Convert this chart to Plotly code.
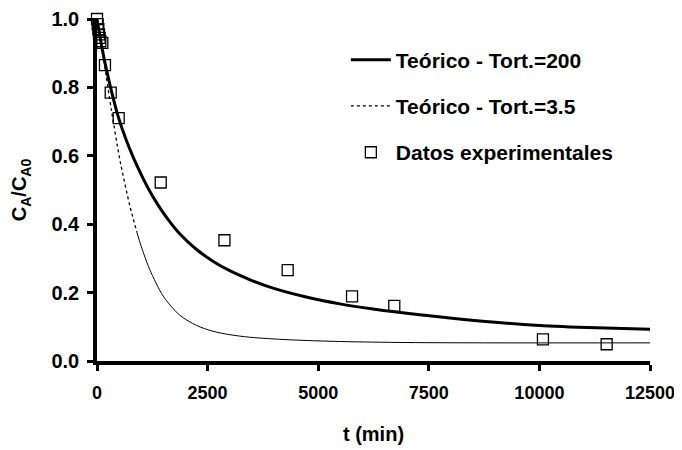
import plotly.graph_objects as go

# Experimental data
t_exp = [0, 15, 30, 45, 60, 75, 120, 180, 310, 490, 1440, 2880, 4310, 5765, 6720, 10080, 11520]
c_exp = [1.0, 0.985, 0.97, 0.955, 0.945, 0.935, 0.93, 0.865, 0.785, 0.71, 0.522, 0.353, 0.266, 0.189, 0.161, 0.0635, 0.049]

# Theoretical curve, tortuosity 200
t_200 = [0, 100, 200, 335, 490, 650, 815, 1000, 1190, 1400, 1600, 1870, 2250, 2620, 3000, 3450, 3980, 4730, 5490, 6240, 7295, 8650, 10000, 11290, 12640]
c_200 = [1.0, 0.925, 0.86, 0.785, 0.71, 0.65, 0.597, 0.545, 0.497, 0.452, 0.415, 0.372, 0.326, 0.292, 0.264, 0.238, 0.213, 0.187, 0.167, 0.152, 0.135, 0.117, 0.104, 0.097, 0.092]

# Theoretical curve, tortuosity 3.5
t_35 = [0, 50, 100, 200, 325, 515, 740, 900, 1000, 1190, 1495, 1870, 2250, 2620, 3000, 3450, 4350, 5500, 7000, 9000, 12640]
c_35 = [1.0, 0.96, 0.925, 0.84, 0.734, 0.59, 0.455, 0.377, 0.335, 0.268, 0.19, 0.134, 0.104, 0.087, 0.077, 0.0695, 0.062, 0.057, 0.054, 0.053, 0.053]

x_ticks = [0, 2500, 5000, 7500, 10000, 12500]
y_ticks = [0.0, 0.2, 0.4, 0.6, 0.8, 1.0]

split = 8  # dotted part ends here, thin solid afterwards

FONT = "Liberation Sans, Arial, sans-serif"

fig = go.Figure()
fig.add_trace(go.Scatter(
    x=t_200, y=c_200, mode="lines", line=dict(color="black", width=3, shape="spline", smoothing=0.8),
    name="Teórico - Tort.=200", legendgroup="a", cliponaxis=False))
fig.add_trace(go.Scatter(
    x=t_35[:split], y=c_35[:split], mode="lines",
    line=dict(color="black", width=1.3, dash="dot", shape="spline", smoothing=0.8),
    name="Teórico - Tort.=3.5", legendgroup="b", cliponaxis=False))
fig.add_trace(go.Scatter(
    x=t_35[split - 1:], y=c_35[split - 1:], mode="lines",
    line=dict(color="black", width=1, shape="spline", smoothing=0.8),
    showlegend=False, legendgroup="b", cliponaxis=False))
fig.add_trace(go.Scatter(
    x=t_exp, y=c_exp, mode="markers",
    marker=dict(symbol="square-open", size=11, color="black", line=dict(width=1.3)),
    name="Datos experimentales", legendgroup="c", cliponaxis=False))

axis_common = dict(
    showline=True, linecolor="black", linewidth=3.5, mirror=False,
    ticks="outside", ticklen=6, tickwidth=3, tickcolor="black",
    showgrid=False, zeroline=False, automargin=False,
)

# The page body has an 8px margin, so the figure is sized to fit the window.
fig.update_layout(
    width=674, height=442,
    margin=dict(l=89, r=32, t=11, b=89),
    paper_bgcolor="white", plot_bgcolor="white",
    font=dict(family=FONT, color="black"),
    xaxis=dict(range=[0, 12500], tickvals=x_ticks, ticktext=[str(v) for v in x_ticks],
               title=dict(text="t (min)", font=dict(family=FONT, size=20, weight="bold"), standoff=26),
               tickfont=dict(family=FONT, size=18, color="black", weight="bold"),
               ticklabelstandoff=7, **axis_common),
    yaxis=dict(range=[0, 1.0], tickvals=y_ticks, ticktext=[f"{v:.1f}" for v in y_ticks],
               title=dict(text="C<sub>A</sub>/C<sub>A0</sub>", font=dict(family=FONT, size=20, weight="bold"), standoff=20),
               tickfont=dict(family=FONT, size=20, color="black", weight="bold"),
               ticklabelstandoff=4, **axis_common),
    legend=dict(x=0.45, y=0.94, xanchor="left", yanchor="top",
                font=dict(family=FONT, size=21, color="black", weight="bold"),
                bgcolor="rgba(0,0,0,0)", tracegroupgap=16, itemwidth=40),
    showlegend=True,
)

fig.write_html("out.html")
